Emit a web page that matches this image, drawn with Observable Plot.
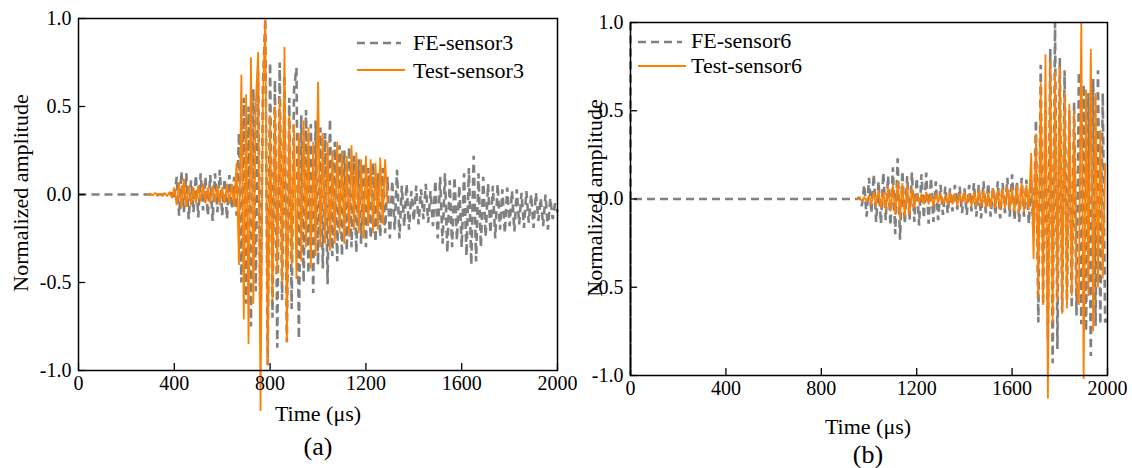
<!DOCTYPE html>
<html><head><meta charset="utf-8">
<script src="https://cdn.jsdelivr.net/npm/d3@7"></script>
<script src="https://cdn.jsdelivr.net/npm/@observablehq/plot@0.6"></script>
<style>
body{margin:0;background:#fff;}
#wrap{position:relative;width:1132px;height:468px;overflow:hidden;background:#fff;font-family:'Liberation Serif','Times New Roman',Times,serif;}
#wrap svg{overflow:visible;}
#wrap svg text{font-family:'Liberation Serif','Times New Roman',Times,serif !important;}
.pl{position:absolute;top:0;}
#over{position:absolute;left:0;top:0;}
</style></head><body><div id="wrap"></div>
<script>
// ---- tick values ----
const xTicks = [0, 400, 800, 1200, 1600, 2000];
const yTicks = [-1, -0.5, 0, 0.5, 1];
const sampleStep = 10; // μs between samples

// ---- (a) FE-sensor3 (gray dashed) ----
const fe3LeadTime = [0];
const fe3LeadValue = [0];
const fe3Start = 380;
const fe3Values = [
  0, 0.01,
  -0.03, 0.10, -0.12, 0.13, -0.10, 0.12, -0.14, 0.08, -0.10, 0.11,
  -0.13, 0.12, -0.09, 0.10, -0.12, 0.11, -0.15, 0.12, -0.10, 0.14,
  -0.12, 0.09, -0.14, 0.11, -0.08, 0.10, -0.12, 0.35, -0.50, 0.55,
  -0.62, 0.50, -0.75, 0.60, -0.55, 0.70, -0.80, 0.62, 1.00, -0.97,
  0.75, -0.70, 0.65, -0.87, 0.75, -0.60, 0.68, -0.84, 0.55, -0.65,
  0.60, 0.72, -0.82, 0.45, -0.50, 0.48, -0.45, 0.40, -0.56, 0.42,
  -0.40, 0.38, -0.42, 0.35, -0.51, 0.43, -0.35, 0.30, -0.38, 0.28,
  -0.35, 0.25, -0.32, 0.27, -0.30, 0.22, -0.33, 0.20, -0.28, 0.18,
  -0.30, 0.15, -0.25, 0.18, -0.27, 0.12, -0.24, 0.15, -0.22, 0.10,
  -0.25, 0.08, -0.20, 0.14, -0.25, 0.05, -0.18, 0.06, -0.20, 0.02,
  -0.15, 0.05, -0.17, 0.03, -0.14, 0.06, -0.16, 0.02, -0.18, 0.08,
  -0.25, 0.10, -0.28, 0.12, -0.33, 0.08, -0.30, 0.10, -0.26, 0.05,
  -0.30, 0.12, -0.35, 0.15, -0.40, 0.22, -0.38, 0.12, -0.30, 0.10,
  -0.24, 0.06, -0.22, 0.05, -0.25, 0.06, -0.20, 0.03, -0.22, 0.04,
  -0.18, 0.02, -0.21, 0.03, -0.17, 0.01, -0.19, 0.02, -0.16, 0.00,
  -0.19, 0.01, -0.15, -0.02, -0.18, 0.00, -0.20, -0.02, -0.14, -0.05,
  -0.10
];

// ---- (a) Test-sensor3 (orange) ----
const test3Start = 290;
const test3Values = [
  0, 0.005, -0.005, 0.01, -0.01, 0.005, -0.01, 0.01, -0.01, 0.015, -0.02,
  0.04, -0.06, 0.07, -0.08, 0.09, -0.07, 0.05, -0.06, 0.04, -0.05,
  0.05, -0.04, 0.06, -0.05, 0.04, -0.05, 0.05, -0.04, 0.05, -0.06,
  0.04, -0.05, 0.06, -0.05, 0.06, -0.07, 0.18, -0.40, 0.68, -0.71,
  0.57, -0.85, 0.78, -0.62, 0.50, 0.81, -1.23, 0.55, 1.00, -0.97,
  0.45, -0.60, 0.50, -0.45, 0.55, -0.50, 0.84, -0.84, 0.45, -0.40,
  0.40, -0.48, 0.35, -0.38, 0.42, -0.30, 0.38, -0.42, 0.30, -0.35,
  0.64, -0.30, 0.35, -0.28, 0.30, -0.32, 0.25, -0.28, 0.30, -0.22,
  0.25, -0.28, 0.22, -0.24, 0.28, -0.20, 0.24, -0.22, 0.20, -0.25,
  0.22, -0.18, 0.20, -0.22, 0.18, -0.20, 0.21, -0.17, 0.20, -0.05
];

// ---- (b) FE-sensor6 (gray dashed) ----
const fe6LeadTime = [0, 0, 0];
const fe6LeadValue = [1, -1, 0];
const fe6Start = 950;
const fe6Values = [
  0, 0.01, -0.04, 0.08, -0.10, 0.12, -0.08, 0.14, -0.13, 0.10,
  -0.14, 0.15, -0.12, 0.13, -0.15, 0.18, -0.20, 0.23, -0.23, 0.16,
  -0.14, 0.13, -0.12, 0.15, -0.13, 0.12, -0.15, 0.14, -0.11, 0.15,
  -0.14, 0.12, -0.13, 0.10, -0.12, 0.08, -0.09, 0.07, -0.08, 0.06,
  -0.07, 0.08, -0.06, 0.07, -0.08, 0.06, -0.09, 0.08, -0.07, 0.09,
  -0.10, 0.08, -0.11, 0.10, -0.08, 0.09, -0.10, 0.07, -0.09, 0.10,
  -0.11, 0.09, -0.08, 0.12, -0.10, 0.14, -0.12, 0.10, -0.13, 0.12,
  -0.10, 0.11, -0.14, 0.10, -0.20, 0.45, -0.70, 0.76, -0.60, 0.55,
  -0.80, 0.85, -0.93, 1.00, -0.85, 0.80, -0.64, 0.73, -0.58, 0.50,
  -0.62, 0.55, -0.66, 0.72, -0.71, 0.65, -0.75, 0.60, -0.89, 0.68,
  -0.72, 0.73, -0.71, 0.60, -0.70, -0.65
];

// ---- (b) Test-sensor6 (orange) ----
const test6Start = 950;
const test6Values = [
  0, 0.005, -0.01, 0.01, -0.015, 0.02, -0.03, 0.04, -0.04, 0.05,
  -0.05, 0.04, -0.06, 0.07, -0.07, 0.08, -0.09, 0.10, -0.11, 0.09,
  -0.10, 0.08, -0.09, 0.06, -0.05, 0.03, -0.02, 0.03, -0.03, 0.04,
  -0.03, 0.03, -0.04, 0.03, -0.02, 0.03, -0.03, 0.02, -0.03, 0.04,
  -0.03, 0.03, -0.04, 0.03, -0.02, 0.04, -0.03, 0.03, -0.04, 0.04,
  -0.04, 0.05, -0.04, 0.05, -0.05, 0.04, -0.05, 0.06, -0.05, 0.05,
  -0.06, 0.06, -0.05, 0.07, -0.06, 0.06, -0.07, 0.08, -0.08, 0.09,
  -0.07, 0.08, -0.06, 0.26, -0.34, 0.37, -0.56, 0.66, -0.60, 0.82,
  -1.13, 0.78, -0.70, 0.72, -0.58, 0.75, -0.65, 0.60, -0.62, 0.54,
  -0.55, 0.50, -0.48, -0.60, 1.00, -1.02, 0.62, -0.55, 0.85, -0.75,
  0.60, -0.50, 0.39, -0.45, 0.20
];

// ---- legend labels / titles ----
const seriesA = ["FE-sensor3", "Test-sensor3"];
const seriesB = ["FE-sensor6", "Test-sensor6"];
const xTitle = "Time (μs)";
const yTitle = "Normalized amplitude";

function buildSeries(leadT, leadV, start, values) {
  const out = leadT.map((t, i) => ({t, v: leadV[i]}));
  values.forEach((v, i) => out.push({t: start + i * sampleStep, v}));
  return out;
}
const fe3 = buildSeries(fe3LeadTime, fe3LeadValue, fe3Start, fe3Values);
const test3 = buildSeries([], [], test3Start, test3Values);
const fe6 = buildSeries(fe6LeadTime, fe6LeadValue, fe6Start, fe6Values);
const test6 = buildSeries([], [], test6Start, test6Values);

const GRAY = "#808080", ORANGE = "#ff8000";
const FONT = "'Liberation Serif', 'Times New Roman', Times, serif";

function panel(fe, test, o) {
  return Plot.plot({
    width: o.width, height: o.height,
    marginLeft: o.ml, marginRight: o.mr, marginTop: o.mt, marginBottom: o.mb,
    style: {background: "transparent", fontFamily: FONT, fontSize: "20px", color: "#000", overflow: "visible"},
    x: {domain: [0, 2000]},
    y: {domain: [-1, 1]},
    marks: [
      Plot.line(fe, {x: "t", y: "v", stroke: GRAY, strokeWidth: 2.6, strokeDasharray: "8,5",
        strokeLinecap: "butt", strokeLinejoin: "miter", strokeMiterlimit: 1}),
      Plot.line(test, {x: "t", y: "v", stroke: ORANGE, strokeWidth: 1.8,
        strokeLinejoin: "miter", strokeMiterlimit: 1}),
      Plot.ruleX(xTicks, {x: d => d, y1: -1, y2: -0.96, stroke: "#000", strokeWidth: 1.3}),
      Plot.ruleY(yTicks, {y: d => d, x1: 0, x2: 30, stroke: "#000", strokeWidth: 1.3}),
      Plot.axisX(xTicks, {tickSize: 0, tickPadding: 5, label: null, fontSize: 20, fill: "#000",
        tickFormat: d => String(d)}),
      Plot.axisY(yTicks, {tickSize: 0, tickPadding: 7, label: null, fontSize: 20, fill: "#000",
        tickFormat: d => d.toFixed(1)}),
      Plot.frame({stroke: "#000", strokeWidth: 1.5})
    ]
  });
}

const wrap = document.getElementById("wrap");
const pa = panel(fe3, test3, {width: 575, height: 420, ml: 78, mr: 18, mt: 18, mb: 50});
pa.classList.add("pl"); pa.style.left = "0px";
wrap.appendChild(pa);
const pb = panel(fe6, test6, {width: 572, height: 420, ml: 70, mr: 25, mt: 22, mb: 45});
pb.classList.add("pl"); pb.style.left = "560px";
wrap.appendChild(pb);

// ---- overlay: legends and titles ----
const NS = "http://www.w3.org/2000/svg";
const over = document.createElementNS(NS, "svg");
over.setAttribute("id", "over");
over.setAttribute("width", 1132); over.setAttribute("height", 468);
wrap.appendChild(over);
function el(tag, attrs, text) {
  const e = document.createElementNS(NS, tag);
  for (const k in attrs) e.setAttribute(k, attrs[k]);
  if (text != null) e.textContent = text;
  over.appendChild(e);
  return e;
}
function legend(labels, lx0, lx1, tx, ys, bs) {
  el("line", {x1: lx0, x2: lx1, y1: ys[0], y2: ys[0], stroke: GRAY, "stroke-width": 2.6, "stroke-dasharray": "8,5"});
  el("text", {x: tx, y: bs[0], "font-size": 22, fill: "#000"}, labels[0]);
  el("line", {x1: lx0, x2: lx1 + 4, y1: ys[1], y2: ys[1], stroke: ORANGE, "stroke-width": 1.8});
  el("text", {x: tx, y: bs[1], "font-size": 22, fill: "#000"}, labels[1]);
}
legend(seriesA, 357, 401, 413, [43, 70], [50, 78]);
legend(seriesB, 638, 682, 691, [42, 66], [48, 73]);

function ytitle(cx, cy) {
  el("text", {transform: `translate(${cx},${cy}) rotate(-90)`, "text-anchor": "middle", dy: "0.35em",
    "font-size": 22, fill: "#000"}, yTitle);
}
ytitle(20, 193);
ytitle(594, 198);
el("text", {x: 318, y: 421, "text-anchor": "middle", "font-size": 22, fill: "#000"}, xTitle);
el("text", {x: 318, y: 455, "text-anchor": "middle", "font-size": 26, fill: "#000"}, "(a)");
el("text", {x: 868, y: 434, "text-anchor": "middle", "font-size": 22, fill: "#000"}, xTitle);
el("text", {x: 868, y: 463, "text-anchor": "middle", "font-size": 26, fill: "#000"}, "(b)");
</script></body></html>
